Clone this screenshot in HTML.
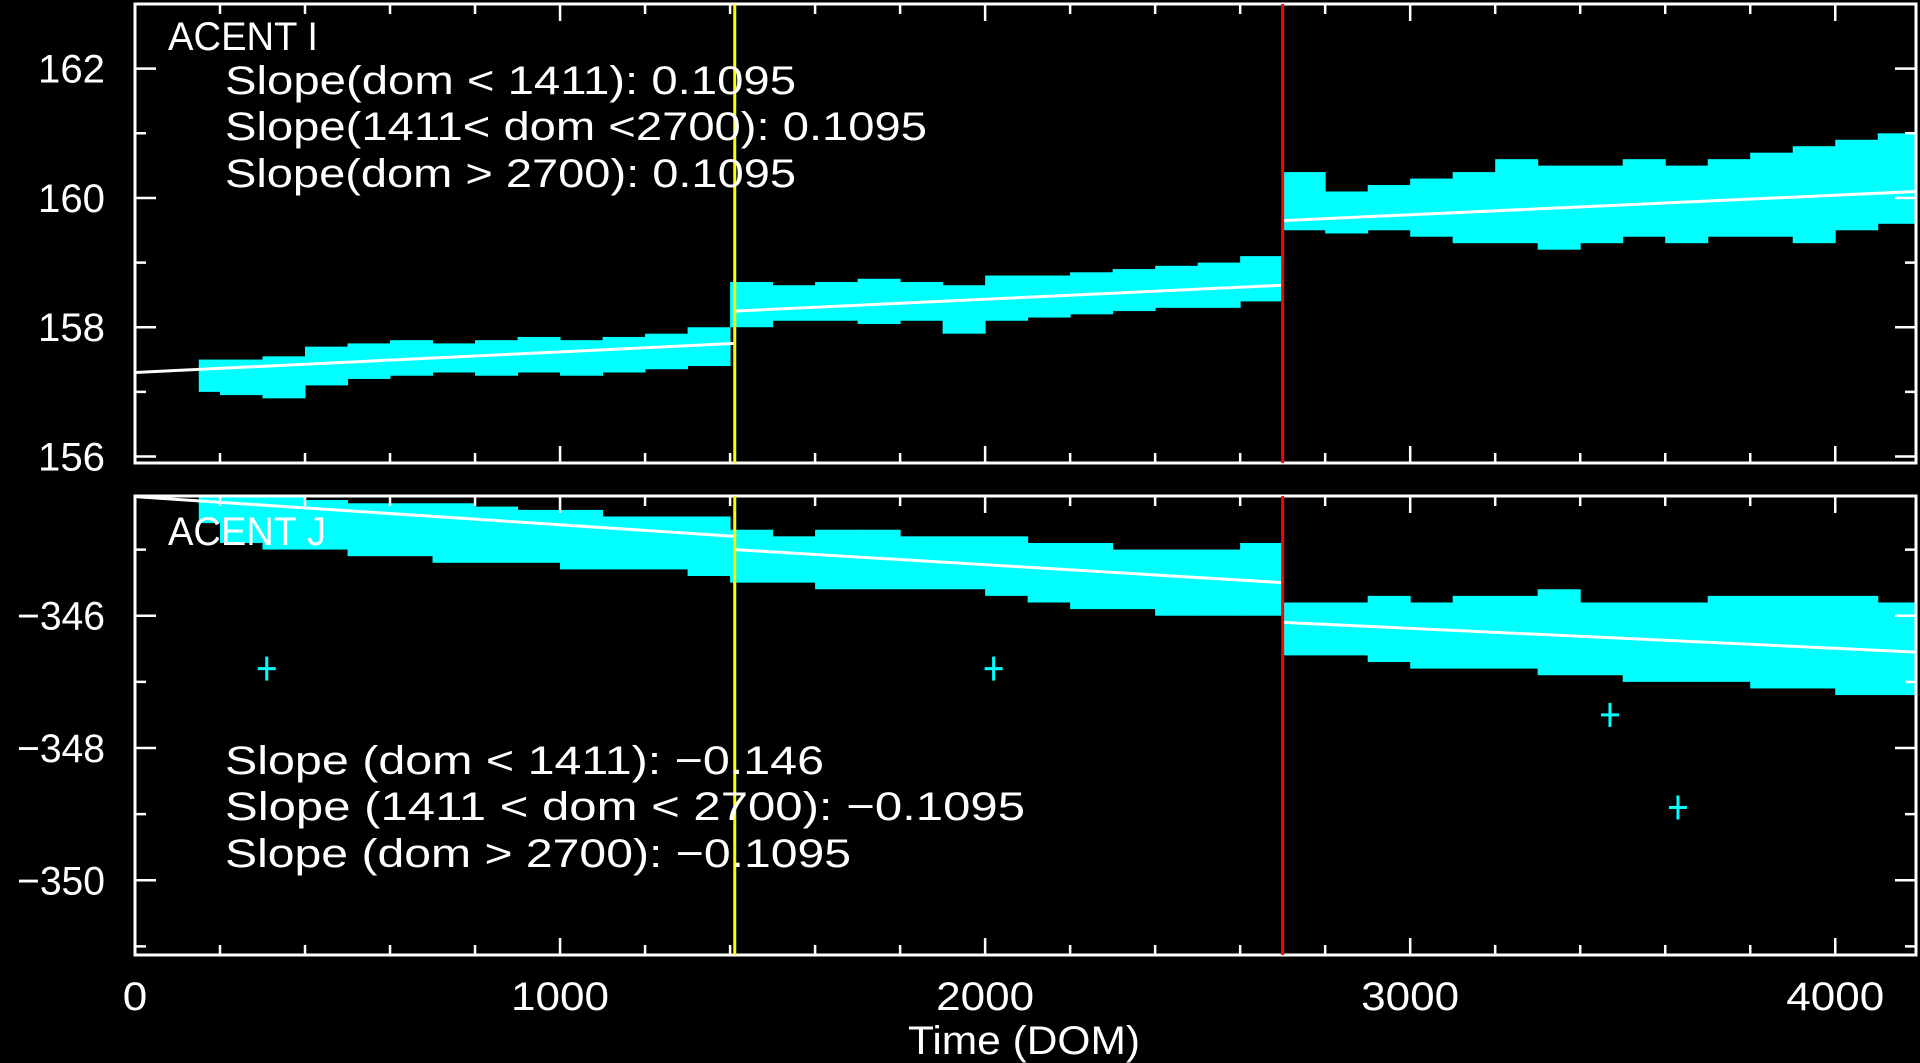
<!DOCTYPE html>
<html><head><meta charset="utf-8"><style>
html,body{margin:0;padding:0;background:#000;}
svg{display:block;}
text{font-family:"Liberation Sans",sans-serif;fill:#fff;}
</style></head><body>
<svg id="chart" width="1920" height="1063" viewBox="0 0 1920 1063" xmlns="http://www.w3.org/2000/svg">
<defs>
<clipPath id="clipTop"><rect x="135" y="4" width="1781" height="459"/></clipPath>
<clipPath id="clipBot"><rect x="135" y="496" width="1781" height="459"/></clipPath>
</defs>
<rect x="0" y="0" width="1920" height="1063" fill="#000"/>
<g id="topData" clip-path="url(#clipTop)"></g>
<g id="botData" clip-path="url(#clipBot)"></g>
<g id="axes"></g>
<text x="168" y="50" font-size="40" textLength="150" lengthAdjust="spacingAndGlyphs">ACENT I</text>
<text x="225" y="94" font-size="40" textLength="571" lengthAdjust="spacingAndGlyphs">Slope(dom &lt; 1411): 0.1095</text>
<text x="225" y="140" font-size="40" textLength="702" lengthAdjust="spacingAndGlyphs">Slope(1411&lt; dom &lt;2700): 0.1095</text>
<text x="225" y="187" font-size="40" textLength="571" lengthAdjust="spacingAndGlyphs">Slope(dom &gt; 2700): 0.1095</text>
<text x="168" y="545" font-size="40" textLength="158" lengthAdjust="spacingAndGlyphs">ACENT J</text>
<text x="225" y="774" font-size="40" textLength="599" lengthAdjust="spacingAndGlyphs">Slope (dom &lt; 1411): −0.146</text>
<text x="225" y="820" font-size="40" textLength="800" lengthAdjust="spacingAndGlyphs">Slope (1411 &lt; dom &lt; 2700): −0.1095</text>
<text x="225" y="867" font-size="40" textLength="626" lengthAdjust="spacingAndGlyphs">Slope (dom &gt; 2700): −0.1095</text>
<text x="1024" y="1054" font-size="40" text-anchor="middle" textLength="232" lengthAdjust="spacingAndGlyphs">Time (DOM)</text>
</svg>
<script>
const xTicks = [0, 1000, 2000, 3000, 4000];
const topTicks = [156, 158, 160, 162];
const botTicks = [-350, -348, -346];
const topDom = [150,250,350,450,550,650,750,850,950,1050,1150,1250,1350,1450,1550,1650,1750,1850,1950,2050,2150,2250,2350,2450,2550,2650,2750,2850,2950,3050,3150,3250,3350,3450,3550,3650,3750,3850,3950,4050,4150];
const topLo = [157.0,156.95,156.9,157.1,157.2,157.25,157.3,157.25,157.3,157.25,157.3,157.35,157.4,158.0,158.1,158.1,158.05,158.1,157.9,158.1,158.15,158.2,158.25,158.3,158.3,158.4,159.5,159.45,159.5,159.4,159.3,159.3,159.2,159.3,159.4,159.3,159.4,159.4,159.3,159.5,159.6];
const topHi = [157.5,157.5,157.55,157.7,157.75,157.8,157.75,157.8,157.85,157.8,157.85,157.9,158.0,158.7,158.65,158.7,158.75,158.7,158.65,158.8,158.8,158.85,158.9,158.95,159.0,159.1,160.4,160.1,160.2,160.3,160.4,160.6,160.5,160.5,160.6,160.5,160.6,160.7,160.8,160.9,161.0];
const botDom = topDom;
const botLo = [-344.6,-344.9,-345.0,-345.0,-345.1,-345.1,-345.2,-345.2,-345.2,-345.3,-345.3,-345.3,-345.4,-345.5,-345.5,-345.6,-345.6,-345.6,-345.6,-345.7,-345.8,-345.9,-345.9,-346.0,-346.0,-346.0,-346.6,-346.6,-346.7,-346.8,-346.8,-346.8,-346.9,-346.9,-347.0,-347.0,-347.0,-347.1,-347.1,-347.2,-347.2];
const botHi = [-344.2,-344.2,-344.2,-344.25,-344.3,-344.3,-344.3,-344.35,-344.4,-344.4,-344.5,-344.5,-344.5,-344.7,-344.8,-344.7,-344.7,-344.8,-344.8,-344.8,-344.9,-344.9,-345.0,-345.0,-345.0,-344.9,-345.8,-345.8,-345.7,-345.8,-345.7,-345.7,-345.6,-345.8,-345.8,-345.8,-345.7,-345.7,-345.7,-345.7,-345.8];
const botOutDom = [310, 2020, 3470, 3630];
const botOutVal = [-346.8, -346.8, -347.5, -348.9];
const topFitDom = [[0,1411],[1411,2700],[2700,4190]];
const topFitVal = [[157.3,157.75],[158.25,158.65],[159.65,160.1]];
const botFitDom = [[0,1411],[1411,2700],[2700,4190]];
const botFitVal = [[-344.2,-344.8],[-345.0,-345.5],[-346.1,-346.55]];
const breaks = [1411, 2700];

const NS = 'http://www.w3.org/2000/svg';
const X0 = 135, X1 = 1916, XMAX = 4190;
const xs = d => X0 + d / XMAX * (X1 - X0);
const panels = [
  {y0: 4, y1: 463, min: 155.9, max: 163.0},
  {y0: 496, y1: 955, min: -351.13, max: -344.19}
];
const ys = (p, v) => p.y1 - (v - p.min) / (p.max - p.min) * (p.y1 - p.y0);
function mk(tag, attrs, parent) {
  const e = document.createElementNS(NS, tag);
  for (const k in attrs) e.setAttribute(k, attrs[k]);
  parent.appendChild(e);
  return e;
}
function band(g, p, dom, lo, hi, name) {
  for (let i = 0; i < dom.length; i++) {
    const a = i === 0 ? dom[i] : dom[i] - 50;
    const r = mk('rect', {x: xs(a), y: ys(p, hi[i]), width: xs(dom[i] + 50) - xs(a) + 0.5, height: ys(p, lo[i]) - ys(p, hi[i]), fill: '#00ffff'}, g);
    
    
  }
}
function fits(g, p, fd, fv, name) {
  for (let i = 0; i < fd.length; i++) {
    const l = mk('line', {x1: xs(fd[i][0]), y1: ys(p, fv[i][0]), x2: xs(fd[i][1]), y2: ys(p, fv[i][1]), stroke: '#fff', 'stroke-width': 3}, g);
    
    
  }
}
const gT = document.getElementById('topData'), gB = document.getElementById('botData');
band(gT, panels[0], topDom, topLo, topHi, 'acent-i-band');
band(gB, panels[1], botDom, botLo, botHi, 'acent-j-band');
for (let i = 0; i < botOutDom.length; i++) {
  const cx = xs(botOutDom[i]), cy = ys(panels[1], botOutVal[i]);
  const pl = mk('path', {d: `M${cx-9},${cy}H${cx+9}M${cx},${cy-12}V${cy+12}`, stroke: '#00ffff', 'stroke-width': 3}, gB);
  
  
}
fits(gT, panels[0], topFitDom, topFitVal, 'acent-i-fit-line');
fits(gB, panels[1], botFitDom, botFitVal, 'acent-j-fit-line');

const ax = document.getElementById('axes');
panels.forEach((p, pi) => {
  const fr = mk('rect', {x: X0, y: p.y0, width: X1 - X0, height: p.y1 - p.y0, fill: 'none', stroke: '#fff', 'stroke-width': 3}, ax);
  
  
  for (let d = 0; d <= XMAX; d += 200) {
    const len = d % 1000 === 0 ? 17 : 10, x = xs(d);
    mk('path', {d: `M${x},${p.y1}V${p.y1-len}M${x},${p.y0}V${p.y0+len}`, stroke: '#fff', 'stroke-width': 2.5}, ax);
  }
  for (let v = Math.ceil(p.min); v <= p.max; v++) {
    const maj = v % 2 === 0, len = maj ? 21 : 11, y = ys(p, v);
    mk('path', {d: `M${X0},${y}H${X0+len}M${X1},${y}H${X1-len}`, stroke: '#fff', 'stroke-width': 2.5}, ax);
  }
  (pi ? botTicks : topTicks).forEach(v => {
    const t = mk('text', {x: 105, y: ys(p, v) + 14, 'font-size': 40, 'text-anchor': 'end', textLength: v < 0 ? 88 : 67, lengthAdjust: 'spacingAndGlyphs'}, ax);
    t.textContent = v < 0 ? '−' + Math.abs(v) : String(v);
    
    
  });
  breaks.forEach((b, bi) => {
    const l = mk('line', {x1: xs(b), y1: p.y0, x2: xs(b), y2: p.y1, stroke: bi ? '#ff0000' : '#ffff00', 'stroke-width': 3}, ax);
    
    
  });
});
xTicks.forEach(d => {
  const s = String(d);
  const t = mk('text', {x: xs(d), y: 1010, 'font-size': 40, 'text-anchor': 'middle', textLength: s.length * 24.5, lengthAdjust: 'spacingAndGlyphs'}, ax);
  t.textContent = s;
  
  
});
</script>
</body></html>
